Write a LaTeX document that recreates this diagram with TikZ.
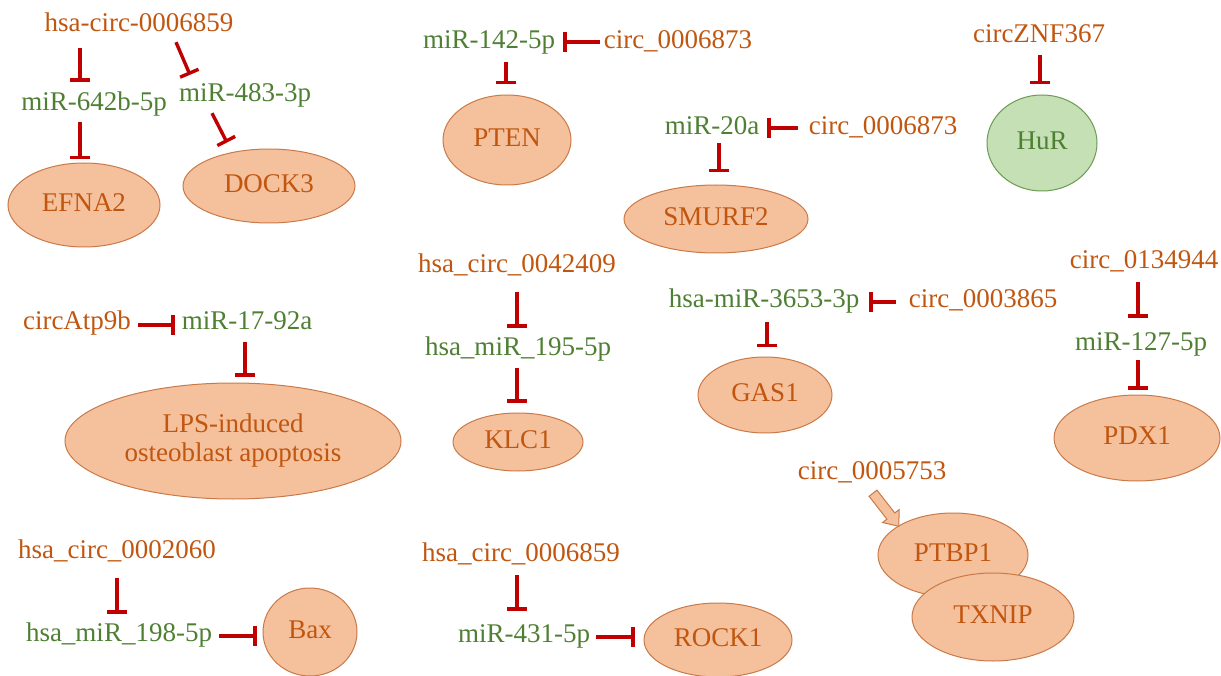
\documentclass[tikz,border=0pt]{standalone}
\usepackage{fontspec}
\setmainfont{Liberation Serif}
\usetikzlibrary{arrows.meta,shapes.geometric,calc}
\definecolor{orangeT}{HTML}{C0560F}
\definecolor{greenT}{HTML}{4E7F33}
\definecolor{inhred}{HTML}{C00000}
\definecolor{ellfill}{HTML}{F5C09C}
\definecolor{ellborder}{HTML}{C97A48}
\definecolor{hurfill}{HTML}{C5E0B4}
\definecolor{hurborder}{HTML}{6B9A52}
\begin{document}
\begin{tikzpicture}[x=1pt,y=-1pt,
  every node/.style={font=\fontsize{27}{29}\selectfont},
  txt/.style={inner sep=0pt, text height=19pt, text depth=6pt},
  circtxt/.style={txt, text=orangeT},
  mirtxt/.style={txt, text=greenT},
  target/.style={ellipse, draw=ellborder, fill=ellfill, line width=1pt, text=orangeT, inner sep=0pt},
  tgt/.style={target, text height=19pt, text depth=6pt},
  hur/.style={ellipse, draw=hurborder, fill=hurfill, line width=1pt, text=greenT, inner sep=0pt, text height=19pt, text depth=6pt},
  inh/.style={draw=inhred, line width=3.4pt, -{Bar[width=20pt]}},
  blockarr/.style={draw=ellborder, fill=ellfill, line width=1pt, line join=miter}
]
\useasboundingbox (0,0) rectangle (1221,676);

% top-left cluster
\node[circtxt] (c1) at (139,25) {hsa-circ-0006859};
\node[mirtxt] (m1) at (94,104) {miR-642b-5p};
\node[mirtxt] (m2) at (245,95) {miR-483-3p};
\node[tgt, minimum width=152pt, minimum height=84pt] (e1) at (84,205) {EFNA2};
\node[tgt, minimum width=172pt, minimum height=74pt] (e2) at (269,186) {DOCK3};

% top-middle
\node[mirtxt] (m3) at (489,42) {miR-142-5p};
\node[circtxt] (c2) at (678,42) {circ\_0006873};
\node[tgt, minimum width=128pt, minimum height=90pt] (e3) at (507,140) {PTEN};
\node[mirtxt] (m4) at (712,128) {miR-20a};
\node[circtxt] (c3) at (883,128) {circ\_0006873};
\node[tgt, minimum width=184pt, minimum height=68pt] (e4) at (716,219) {SMURF2};

% top-right
\node[circtxt] (c4) at (1039,36) {circZNF367};
\node[hur, minimum width=110pt, minimum height=96pt] (e5) at (1042,143) {HuR};

% middle-left
\node[circtxt] (c5) at (77,323) {circAtp9b};
\node[mirtxt] (m5) at (247,323) {miR-17-92a};
\node[target, align=center, minimum width=336pt, minimum height=116pt] (e6) at (233,441) {LPS-induced\\osteoblast apoptosis};

% middle-center
\node[circtxt] (c6) at (517,266) {hsa\_circ\_0042409};
\node[mirtxt] (m6) at (518,349) {hsa\_miR\_195-5p};
\node[tgt, minimum width=130pt, minimum height=58pt] (e7) at (518,442) {KLC1};

\node[mirtxt] (m7) at (764,301) {hsa-miR-3653-3p};
\node[circtxt] (c7) at (983,301) {circ\_0003865};
\node[tgt, minimum width=134pt, minimum height=76pt] (e8) at (765,395) {GAS1};

% middle-right
\node[circtxt] (c8) at (1144,262) {circ\_0134944};
\node[mirtxt] (m8) at (1141,344) {miR-127-5p};
\node[tgt, minimum width=166pt, minimum height=86pt] (e9) at (1137,438) {PDX1};

% bottom-right
\node[circtxt] (c9) at (872,473) {circ\_0005753};
\node[tgt, minimum width=150pt, minimum height=84pt] (e10) at (953,555) {PTBP1};
\node[tgt, minimum width=162pt, minimum height=88pt] (e11) at (993,617) {TXNIP};

% bottom-left
\node[circtxt] (c10) at (117,552) {hsa\_circ\_0002060};
\node[mirtxt] (m9) at (119,635) {hsa\_miR\_198-5p};
\node[tgt, minimum width=94pt, minimum height=88pt] (e12) at (310,632) {Bax};
\node[circtxt] (c11) at (521,555) {hsa\_circ\_0006859};
\node[mirtxt] (m10) at (524,636) {miR-431-5p};
\node[tgt, minimum width=148pt, minimum height=74pt] (e13) at (718,640) {ROCK1};

% inhibition connectors
\draw[inh] ($(c1.south)+(-59,10.5)$) -- ($(m1.north)+(-14,-9.5)$);
\draw[inh] ($(c1.south)+(37,4.5)$) -- ($(m2.north)+(-55,-7.5)$);
\draw[inh] ($(m1.south)+(-14,5.5)$) -- ($(e1.north)+(-4,-3)$);
\draw[inh] ($(m2.south)+(-33,5.5)$) -- ($(e2.north)+(-42,-6)$);
\draw[inh] ($(c2.west)+(-4,0)$) -- ($(m3.east)+(8,0)$);
\draw[inh] ($(m3.south)+(17,7.5)$) -- ($(e3.north)+(-1,-10)$);
\draw[inh] ($(c3.west)+(-11,0)$) -- ($(m4.east)+(8,0)$);
\draw[inh] ($(m4.south)+(7,2.5)$) -- ($(e4.north)+(3,-12)$);
\draw[inh] ($(c4.south)+(1,6.5)$) -- ($(e5.north)+(-2,-10)$);
\draw[inh] ($(c5.east)+(7,2)$) -- ($(m5.west)+(-7,2)$);
\draw[inh] ($(m5.south)+(-2,6.5)$) -- ($(e6.north)+(12,-6)$);
\draw[inh] ($(c6.south)+(0,13.5)$) -- ($(m6.north)+(-1,-8.5)$);
\draw[inh] ($(m6.south)+(-1,6.5)$) -- ($(e7.north)+(-1,-10)$);
\draw[inh] ($(c7.west)+(-13,1)$) -- ($(m7.east)+(10,1)$);
\draw[inh] ($(m7.south)+(3,8.5)$) -- ($(e8.north)+(2,-9)$);
\draw[inh] ($(c8.south)+(-6,7.5)$) -- ($(m8.north)+(-3,-13.5)$);
\draw[inh] ($(m8.south)+(-3,3.5)$) -- ($(e9.north)+(1,-5)$);
\draw[inh] ($(c10.south)+(0,13.5)$) -- ($(m9.north)+(-2,-8.5)$);
\draw[inh] ($(m9.east)+(7,1)$) -- ($(e12.west)+(-6,4)$);
\draw[inh] ($(c11.south)+(-4,7.5)$) -- ($(m10.north)+(-7,-12.5)$);
\draw[inh] ($(m10.east)+(6,1)$) -- ($(e13.west)+(-9,-3)$);

% block arrow circ_0005753 -> PTBP1
\coordinate (bas) at ($(c9.south)+(1,7.5)$);
\begin{scope}[shift={(bas)}, rotate=-52]
  \draw[blockarr] (0,5) -- (29,5) -- (29,10.5) -- (42,0) -- (29,-10.5) -- (29,-5) -- (0,-5) -- cycle;
\end{scope}
\end{tikzpicture}
\end{document}
